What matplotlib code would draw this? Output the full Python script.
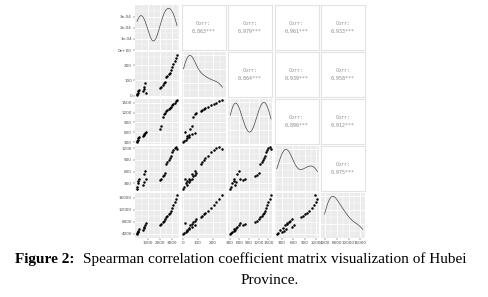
import numpy as np
import matplotlib
matplotlib.use("Agg")
import matplotlib.pyplot as plt

# ---- data (read/estimated from the picture) ----
v1 = [90, 120, 150, 180, 220, 600, 650, 700, 780, 830, 2000, 2100, 2200, 2300, 2400,
      2500, 2600, 2700, 2800, 2900, 3000, 3100, 3200, 3300, 3400]
v2 = [5, 10, 20, 30, 40, 30, 45, 60, 80, 15, 50, 60, 70, 80, 90,
      120, 130, 140, 150, 170, 190, 210, 225, 245, 265]
v3 = [320, 350, 380, 420, 450, 480, 510, 540, 580, 620, 700, 780, 1080, 1150, 1200,
      1250, 1290, 1320, 1350, 1380, 1420, 1460, 1500, 1540, 1580]
v4 = [160, 200, 300, 350, 400, 250, 320, 550, 620, 420, 380, 420, 480, 520, 560,
      800, 850, 900, 950, 1000, 1100, 1150, 1200, 1230, 1180]
v5 = [3800, 4200, 4600, 5000, 5500, 5200, 5800, 6400, 7000, 7500, 6800, 7400, 7900, 8300, 8800,
      9500, 10000, 10500, 11000, 11500, 12500, 13500, 14500, 15500, 16800]
variables = [v1, v2, v3, v4, v5]

corr_labels = {(0, 1): "0.863***", (0, 2): "0.979***", (0, 3): "0.961***", (0, 4): "0.933***",
               (1, 2): "0.864***", (1, 3): "0.939***", (1, 4): "0.958***",
               (2, 3): "0.896***", (2, 4): "0.912***",
               (3, 4): "0.975***"}

lims = [(-80, 3560), (-8, 285), (250, 1610), (100, 1260), (2600, 17600)]
ticks = [[1000, 2000, 3000], [0, 100, 200], [300, 600, 900, 1200, 1500],
         [300, 600, 900, 1200], [4000, 8000, 12000, 16000]]
dens_ticks = [0, 1e-4, 2e-4, 3e-4]
dens_labels = ["0e+00", "1e-04", "2e-04", "3e-04"]

W, H = 488, 297
fig = plt.figure(figsize=(W / 100, H / 100), dpi=100)

left0, top0 = 135, 5
pw, ph = 44, 45
gx, gy = 2.5, 2.0

tick_fs = 3.0
tick_col = "#4D4D4D"


def kde(data, grid, factor):
    d = np.asarray(data, float)
    bw = 1.06 * d.std(ddof=1) * len(d) ** (-1 / 5) * factor
    z = (grid[:, None] - d[None, :]) / bw
    return np.exp(-0.5 * z ** 2).sum(axis=1) / (len(d) * bw * np.sqrt(2 * np.pi))


def minor_of(t):
    t = np.asarray(t, float)
    step = t[1] - t[0]
    return np.concatenate([[t[0] - step / 2], (t[:-1] + t[1:]) / 2, [t[-1] + step / 2]])


def style_grey(ax):
    ax.set_facecolor("#EBEBEB")
    for s in ax.spines.values():
        s.set_visible(False)
    ax.set_axisbelow(True)
    ax.grid(True, which="major", color="white", lw=0.6)
    ax.grid(True, which="minor", color="white", lw=0.3)
    ax.tick_params(which="both", length=1.2, width=0.3, color="#333333",
                   labelsize=tick_fs, labelcolor=tick_col, pad=1)
    ax.tick_params(which="minor", length=0)


bw_factor = [0.6, 0.8, 0.6, 0.8, 0.8]

for i in range(5):
    for j in range(5):
        x0 = left0 + j * (pw + gx)
        y0 = top0 + i * (ph + gy)
        ax = fig.add_axes([x0 / W, 1 - (y0 + ph) / H, pw / W, ph / H])
        xd = np.asarray(variables[j], float)
        yd = np.asarray(variables[i], float)
        if i < j:
            ax.set_facecolor("white")
            for s in ax.spines.values():
                s.set_color("#E3E3E3")
                s.set_linewidth(0.8)
            ax.set_xticks([])
            ax.set_yticks([])
            ax.text(0.5, 0.58, "Corr:", transform=ax.transAxes, ha="center",
                    va="center", fontsize=3.6, color="#8A8A8A", family="DejaVu Sans Mono")
            ax.text(0.5, 0.41, corr_labels[(i, j)], transform=ax.transAxes, ha="center",
                    va="center", fontsize=3.6, color="#8A8A8A", family="DejaVu Sans Mono")
            continue
        style_grey(ax)
        ax.set_xlim(*lims[j])
        ax.set_xticks(ticks[j])
        ax.set_xticks(minor_of(ticks[j]), minor=True)
        ax.set_xlim(*lims[j])
        if i == j:
            g = np.linspace(min(xd), max(xd), 200)
            dens = kde(xd, g, bw_factor[i])
            ax.plot(g, dens, color="#444444", lw=0.5)
            top = max(dens) * 1.08
            ax.set_ylim(0, top)
            if i == 0:
                keep = [k for k, t in enumerate(dens_ticks) if t <= top]
                ax.set_yticks([dens_ticks[k] for k in keep])
                ax.set_yticklabels([dens_labels[k] for k in keep])
                ax.set_yticks([0.5e-4, 1.5e-4, 2.5e-4, 3.5e-4], minor=True)
                ax.set_ylim(0, top)
            else:
                ax.set_yticks(np.linspace(0, max(dens), 4))
                ax.set_yticks(np.linspace(0, max(dens), 7)[1::2], minor=True)
        else:
            ax.scatter(xd, yd, s=3.2, color="black", lw=0)
            ax.set_yticks(ticks[i])
            ax.set_yticks(minor_of(ticks[i]), minor=True)
            ax.set_ylim(*lims[i])
        if j != 0:
            ax.tick_params(axis="y", labelleft=False, length=0)
        if i != 4:
            ax.tick_params(axis="x", labelbottom=False, length=0)

fig.text(15 / W, 1 - 259 / H, "Figure 2:", fontsize=11, fontweight="bold",
         family="Liberation Serif", ha="left", va="center")
fig.text(83 / W, 1 - 259 / H,
         "Spearman correlation coefficient matrix visualization of Hubei",
         fontsize=11, family="Liberation Serif", ha="left", va="center")
fig.text(270 / W, 1 - 281 / H, "Province.", fontsize=11, family="Liberation Serif",
         ha="center", va="center")

fig.savefig("out.png", dpi=100)
